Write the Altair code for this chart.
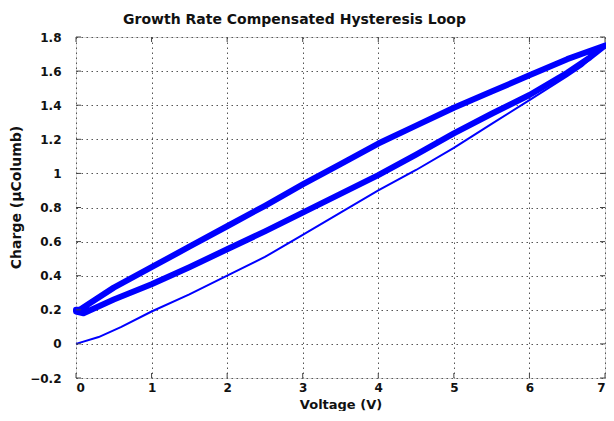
import altair as alt
import pandas as pd

# First (virgin) charging curve
init_v = [0, 0.3, 0.6, 1, 1.5, 2, 2.5, 3, 3.5, 4, 4.5, 5, 5.5, 6, 6.5, 6.7, 7]
init_q = [0, 0.04, 0.10, 0.19, 0.29, 0.40, 0.51, 0.64, 0.77, 0.90, 1.02, 1.15, 1.29, 1.43, 1.57, 1.63, 1.75]

# Hysteresis loop: upper branch (7 -> 0) then lower branch (0 -> 7)
upper_v = [7, 6.5, 6, 5.5, 5, 4.5, 4, 3.5, 3, 2.5, 2, 1.5, 1, 0.5, 0.05, 0]
upper_q = [1.75, 1.67, 1.575, 1.48, 1.385, 1.28, 1.175, 1.055, 0.935, 0.81, 0.69, 0.57, 0.45, 0.33, 0.20, 0.20]
lower_v = [0, 0.1, 0.5, 1, 1.5, 2, 2.5, 3, 3.5, 4, 4.5, 5, 5.5, 6, 6.5, 6.8, 7]
lower_q = [0.19, 0.18, 0.26, 0.35, 0.45, 0.555, 0.66, 0.77, 0.88, 0.99, 1.11, 1.235, 1.35, 1.46, 1.59, 1.68, 1.75]

x_ticks = [0, 1, 2, 3, 4, 5, 6, 7]
y_ticks = [-0.2, 0, 0.2, 0.4, 0.6, 0.8, 1, 1.2, 1.4, 1.6, 1.8]

init_df = pd.DataFrame({"v": init_v, "q": init_q, "i": range(len(init_v))})
loop_v = upper_v + lower_v
loop_q = upper_q + lower_q
loop_df = pd.DataFrame({"v": loop_v, "q": loop_q, "i": range(len(loop_v))})

FONT = "DejaVu Sans"
W, H = 529, 341

xscale = alt.Scale(domain=[0, 7], nice=False, zero=False)
yscale = alt.Scale(domain=[-0.2, 1.8], nice=False, zero=False)

xaxis = alt.Axis(values=x_ticks, format="d", grid=True, gridDash=[1.5, 3.5], gridColor="#555",
                 gridOpacity=1, ticks=False, domain=False, labelFont=FONT, labelFontSize=12,
                 labelFontWeight="bold", labelColor="#111", labelPadding=4, labelOverlap=False,
                 title="Voltage (V)", titleFont=FONT, titleFontSize=13, titleFontWeight="bold",
                 titleColor="#111", titleBaseline="alphabetic", titleY=30, titleAnchor="middle")
yaxis = alt.Axis(values=y_ticks, format="~g", grid=True, gridDash=[1.5, 3.5], gridColor="#555",
                 gridOpacity=1, ticks=False, domain=False, labelFont=FONT, labelFontSize=12,
                 labelFontWeight="bold", labelColor="#111", labelPadding=15, labelOverlap=False,
                 labelBound=False, labelFlush=False,
                 title="Charge (μColumb)", titleFont=FONT, titleFontSize=14, titleFontWeight="bold",
                 titleColor="#111", titleAngle=-90, titleBaseline="alphabetic", titleAlign="center",
                 titleX=-56, titleY=160)

init_line = alt.Chart(init_df).mark_line(color="#0000ff", strokeWidth=2).encode(
    x=alt.X("v:Q", scale=xscale, axis=xaxis),
    y=alt.Y("q:Q", scale=yscale, axis=yaxis),
    order="i:Q",
)
loop_line = alt.Chart(loop_df).mark_line(color="#0000ff", strokeWidth=6, strokeJoin="round",
                                         strokeCap="round").encode(
    x=alt.X("v:Q", scale=xscale, axis=xaxis),
    y=alt.Y("q:Q", scale=yscale, axis=yaxis),
    order="i:Q",
)

xt = pd.DataFrame({"t": x_ticks})
yt = pd.DataFrame({"t": y_ticks})
tick_color = "#444"
xt_bottom = alt.Chart(xt).mark_rule(color=tick_color, strokeWidth=1).encode(
    x=alt.X("t:Q", scale=xscale, axis=xaxis), y=alt.value(H), y2=alt.value(H - 5))
xt_top = alt.Chart(xt).mark_rule(color=tick_color, strokeWidth=1).encode(
    x=alt.X("t:Q", scale=xscale, axis=xaxis), y=alt.value(0), y2=alt.value(5))
yt_left = alt.Chart(yt).mark_rule(color=tick_color, strokeWidth=1).encode(
    y=alt.Y("t:Q", scale=yscale, axis=yaxis), x=alt.value(0), x2=alt.value(5))
yt_right = alt.Chart(yt).mark_rule(color=tick_color, strokeWidth=1).encode(
    y=alt.Y("t:Q", scale=yscale, axis=yaxis), x=alt.value(W), x2=alt.value(W - 5))

chart = alt.layer(init_line, loop_line, xt_bottom, xt_top, yt_left, yt_right).properties(
    width=W, height=H,
    title=alt.TitleParams("Growth Rate Compensated Hysteresis Loop", font=FONT, fontSize=14,
                          fontWeight="bold", color="#111", anchor="middle", dx=-46,
                          offset=4),
    autosize=alt.AutoSizeParams(type="none"),
    padding={"left": 68, "top": 29, "right": 1, "bottom": 33},
).configure_view(stroke="#444", strokeWidth=1).configure_axis(labelOverlap=False).configure(
    background="white")

chart.save("out.html", embed_options={"renderer": "svg", "actions": False})
